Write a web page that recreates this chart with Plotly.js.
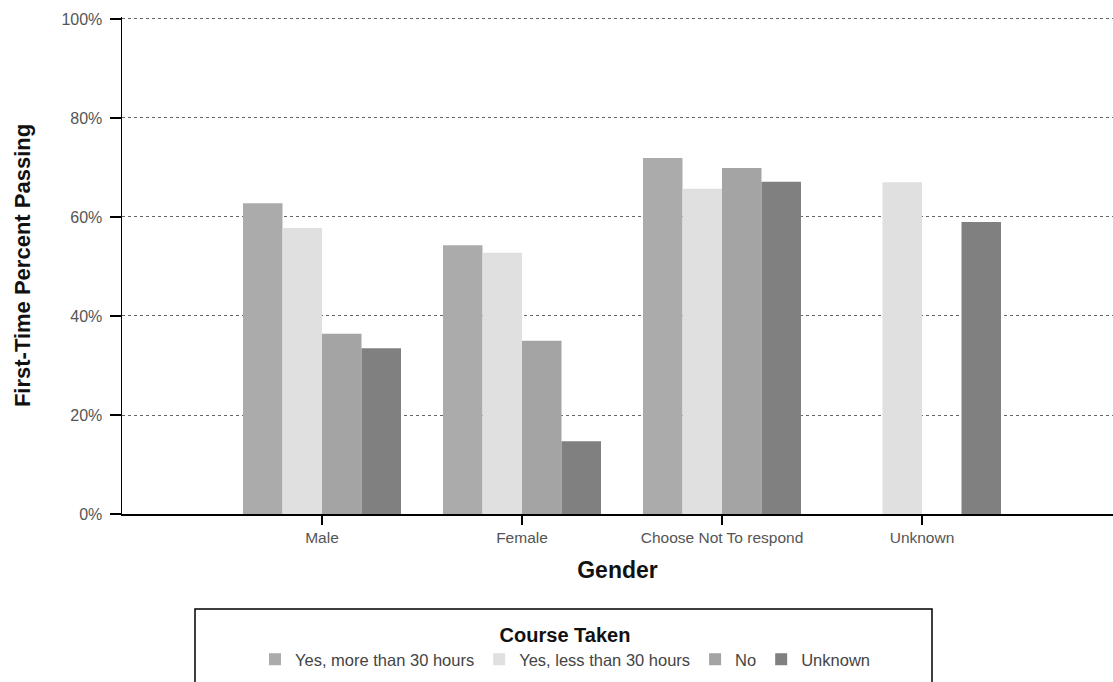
<!DOCTYPE html>
<html>
<head>
<meta charset="utf-8">
<script src="https://cdn.plot.ly/plotly-3.0.1.min.js"></script>
<style>html,body{margin:0;padding:0;background:#fff;overflow:hidden;}#chart{width:1113px;height:682px;}</style>
</head>
<body>
<div id="chart"></div>
<script>
// Data
const categories = ["Male", "Female", "Choose Not To respond", "Unknown"];
const seriesNames = ["Yes, more than 30 hours", "Yes, less than 30 hours", "No", "Unknown"];
const yesMore30 = [62.8, 54.3, 71.9, null];
const yesLess30 = [57.8, 52.8, 65.7, 67.0];
const noCourse  = [36.4, 35.0, 69.9, null];
const unknownCourse = [33.5, 14.7, 67.1, 59.0];
const yTickVals = [0, 20, 40, 60, 80, 100];
const yTickText = ["0%", "20%", "40%", "60%", "80%", "100%"];

const colors = ["#ababab", "#e0e0e0", "#a4a4a4", "#808080"];
const seriesValues = [yesMore30, yesLess30, noCourse, unknownCourse];

const FONT = "Arial, 'Liberation Sans', sans-serif";

const traces = seriesValues.map((vals, i) => ({
  type: "bar",
  name: seriesNames[i],
  x: categories,
  y: vals,
  marker: {color: colors[i], line: {width: 0}},
  hoverinfo: "x+y+name"
}));

const W = 1113, H = 682;
const mL = 122, mR = 0, mT = 17, mB = 168;
const pw = W - mL - mR, ph = H - mT - mB;
const px = v => (v - mL) / pw;
const py = v => (H - mB - v) / ph;

const layout = {
  width: W, height: H,
  margin: {l: mL, r: mR, t: mT, b: mB, pad: 0},
  paper_bgcolor: "#ffffff",
  plot_bgcolor: "#ffffff",
  font: {family: FONT, color: "#444"},
  barmode: "group",
  bargap: 0.21,
  bargroupgap: 0,
  showlegend: true,
  xaxis: {
    type: "category",
    range: [-1, 3.955],
    showline: true, linecolor: "#000", linewidth: 1.5,
    ticks: "outside", ticklen: 9, tickcolor: "#000", tickwidth: 1.5,
    tickfont: {family: FONT, size: 15.5, color: "#555"},
    showgrid: false, zeroline: false,
    title: {text: "<b>Gender</b>", font: {family: FONT, size: 23, color: "#111"}, standoff: 17},
    automargin: false
  },
  yaxis: {
    range: [0, 100.4],
    tickvals: yTickVals, ticktext: yTickText,
    showline: true, linecolor: "#000", linewidth: 1.5,
    ticks: "outside", ticklen: 11, tickcolor: "#000", tickwidth: 1.5,
    ticklabelstandoff: 4,
    tickfont: {family: FONT, size: 16, color: "#555"},
    showgrid: true, gridcolor: "#666", gridwidth: 1, griddash: "dot",
    zeroline: false,
    title: {text: "<b>First-Time Percent Passing</b>", font: {family: FONT, size: 22, color: "#111"}, standoff: 24},
    automargin: false
  },
  legend: {
    orientation: "h",
    x: px(565), xanchor: "center",
    y: py(616), yanchor: "top",
    bgcolor: "rgba(0,0,0,0)",
    borderwidth: 0,
    font: {family: FONT, size: 16.5, color: "#444"},
    title: {text: "<b>Course Taken</b>", side: "top center", font: {family: FONT, size: 20, color: "#111"}},
    traceorder: "normal",
    itemclick: false, itemdoubleclick: false
  },
  shapes: [{
    type: "rect", xref: "paper", yref: "paper",
    x0: px(195), x1: px(932), y0: py(609), y1: py(690),
    line: {color: "#000", width: 1.5}, fillcolor: "rgba(0,0,0,0)", layer: "below"
  }]
};

Plotly.newPlot("chart", traces, layout, {displayModeBar: false, staticPlot: true});
</script>
</body>
</html>
